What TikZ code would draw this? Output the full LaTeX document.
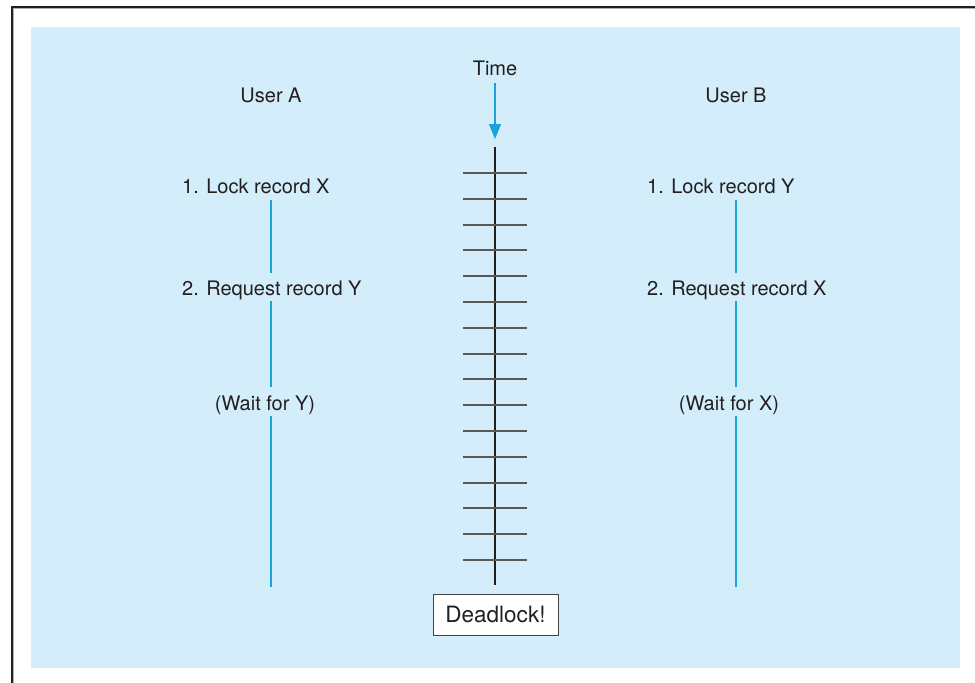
\documentclass[tikz,border=0pt]{standalone}
\usepackage{fontspec}
\setmainfont{TeX Gyre Heros}
\usetikzlibrary{arrows.meta}
\definecolor{bgblue}{HTML}{D3EDFA}
\definecolor{cyanline}{HTML}{1BA1DB}
\definecolor{ink}{HTML}{231F20}
\begin{document}
\begin{tikzpicture}[x=1pt,y=-1pt,
  lbl/.style={inner sep=0pt, text=ink, font=\fontsize{20}{24}\selectfont},
  vline/.style={draw=cyanline, line width=1.1pt},
  tickline/.style={draw=ink!75, line width=2pt},
  deadbox/.style={lbl, font=\fontsize{22.5}{27}\selectfont, draw=ink!85, fill=white, line width=1pt, minimum width=125pt, minimum height=41pt}]
\useasboundingbox (0,0) rectangle (975,683);
% background and frame
\fill[bgblue] (31,27) rectangle (960,668);
\draw[black!30, line width=1.2pt] (13.6,683) -- (13.6,8.6) -- (975,8.6);
\draw[ink, line width=2pt] (12,683) -- (12,7) -- (975,7);
% labels
\node[lbl, anchor=base] (time) at (495,75) {Time};
\node[lbl, anchor=base] (userA) at (271,102) {User A};
\node[lbl, anchor=base] (userB) at (736,102) {User B};
\node[lbl, anchor=base west] (lockA) at (182,193) {1. Lock record X};
\node[lbl, anchor=base west] (reqA) at (182,295) {2. Request record Y};
\node[lbl, anchor=base] (waitA) at (265,410) {(Wait for Y)};
\node[lbl, anchor=base west] (lockB) at (647,193) {1. Lock record Y};
\node[lbl, anchor=base west] (reqB) at (647,295) {2. Request record X};
\node[lbl, anchor=base] (waitB) at (729,410) {(Wait for X)};
% user lines
\coordinate (a1) at (271,200); \coordinate (a2) at (271,273);
\coordinate (a3) at (271,301); \coordinate (a4) at (271,387);
\coordinate (a5) at (271,416); \coordinate (a6) at (271,587);
\coordinate (b1) at (736,200); \coordinate (b2) at (736,273);
\coordinate (b3) at (736,301); \coordinate (b4) at (736,387);
\coordinate (b5) at (736,416); \coordinate (b6) at (736,587);
\draw[vline] (a1) -- (a2);
\draw[vline] (a3) -- (a4);
\draw[vline] (a5) -- (a6);
\draw[vline] (b1) -- (b2);
\draw[vline] (b3) -- (b4);
\draw[vline] (b5) -- (b6);
% time arrow
\coordinate (ts) at (495,83);
\coordinate (tt) at (495,139);
\draw[cyanline, line width=1.3pt, -{Triangle[length=15pt,width=12pt]}] (ts) -- (tt);
% timeline
\coordinate (t0) at (495,147);
\coordinate (t1) at (495,585);
\draw[ink, line width=1.3pt] (t0) -- (t1);
\foreach \i in {0,...,15} {
  \pgfmathsetmacro{\ty}{round(173+\i*25.8)}
  \draw[tickline] (463,\ty) -- (527,\ty);
}
% deadlock box
\node[deadbox] (dead) at (495.5,614.5) {Deadlock!};
\end{tikzpicture}
\end{document}
